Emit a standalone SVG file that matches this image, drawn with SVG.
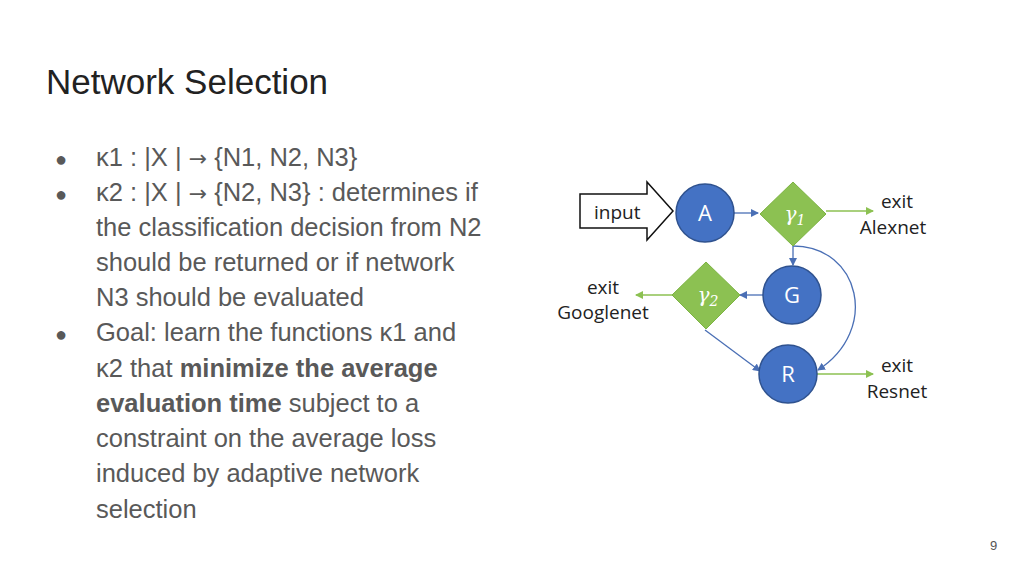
<svg xmlns="http://www.w3.org/2000/svg" width="1024" height="576" viewBox="0 0 1024 576">
<style>
.t{font-family:"Liberation Sans",Arial,sans-serif;fill:#595959;font-size:25.5px}
.ar{font-family:"DejaVu Sans",sans-serif;font-size:22px}
.d{font-family:"Open Sans","Liberation Sans",sans-serif;font-size:19px;fill:#222}
.c{fill:#4472c4;stroke:#2f528f;stroke-width:1.5}
.dm{fill:#8cc152;stroke:#7cb342}
.b{stroke:#4a6fb5;stroke-width:1.3;fill:none;marker-end:url(#mb)}
.g{stroke:#8cc152;stroke-width:1.3;fill:none;marker-end:url(#mg)}
.w{font-family:"Open Sans","Liberation Sans",sans-serif;font-size:22px;fill:#fff}
</style>
<defs>
<marker id="mb" markerWidth="8" markerHeight="8" refX="7" refY="4" orient="auto" markerUnits="userSpaceOnUse"><path d="M0,0L8,4L0,8z" fill="#4a6fb5"/></marker>
<marker id="mg" markerWidth="8" markerHeight="8" refX="7" refY="4" orient="auto" markerUnits="userSpaceOnUse"><path d="M0,0L8,4L0,8z" fill="#8cc152"/></marker>
</defs>
<rect width="1024" height="576" fill="#fff"/>
<text x="46" y="94" font-family="Liberation Sans,Arial,sans-serif" font-size="35" fill="#222">Network Selection</text>
<g class="t">
<text x="55" y="166" font-size="20">●</text><text x="96" y="166">κ1 : |X | <tspan class="ar">→</tspan> {N1, N2, N3}</text>
<text x="55" y="201" font-size="20">●</text><text x="96" y="201">κ2 : |X | <tspan class="ar">→</tspan> {N2, N3} : determines if</text>
<text x="96" y="236">the classification decision from N2</text>
<text x="96" y="271">should be returned or if network</text>
<text x="96" y="306">N3 should be evaluated</text>
<text x="55" y="341" font-size="20">●</text><text x="96" y="341">Goal: learn the functions κ1 and</text>
<text x="96" y="377">κ2 that <tspan font-weight="bold">minimize the average</tspan></text>
<text x="96" y="412"><tspan font-weight="bold">evaluation time</tspan> subject to a</text>
<text x="96" y="447">constraint on the average loss</text>
<text x="96" y="482">induced by adaptive network</text>
<text x="96" y="518">selection</text>
</g>
<text x="990" y="550" font-family="Liberation Sans,sans-serif" font-size="13" fill="#555">9</text>
<g id="connectors">
<path class="b" d="M734,213H758"/>
<path class="g" d="M826,211H873"/>
<path class="b" d="M793,246V265"/>
<path class="b" d="M793,246C860,246 880,330 818,370"/>
<path class="b" d="M763,295H740"/>
<path class="g" d="M672,295H636"/>
<path class="b" d="M705,330L760,371"/>
<path class="g" d="M817,374H873"/>
</g>
<g id="input"><path d="M580,194H647V182L673,211L647,240V228H580Z" fill="#fff" stroke="#111" stroke-width="1.5"/><text class="d" x="594" y="219">input</text></g>
<g id="A"><circle class="c" cx="705" cy="213" r="29"/><text class="w" x="705" y="221" text-anchor="middle">A</text></g>
<g id="g1"><path class="dm" d="M793,182L826,214L793,246L760,214Z"/><text x="795" y="221" text-anchor="middle" font-family="DejaVu Serif,serif" font-style="italic" font-size="20" fill="#fff">γ<tspan font-size="14" dy="4">1</tspan></text></g>
<g id="G"><circle class="c" cx="792" cy="295" r="29"/><text class="w" x="792" y="303" text-anchor="middle">G</text></g>
<g id="g2"><path class="dm" d="M706,262L740,295L706,329L672,295Z"/><text x="708" y="302" text-anchor="middle" font-family="DejaVu Serif,serif" font-style="italic" font-size="20" fill="#fff">γ<tspan font-size="14" dy="4">2</tspan></text></g>
<g id="R"><circle class="c" cx="788" cy="374" r="29"/><text class="w" x="788" y="382" text-anchor="middle">R</text></g>
<g class="d">
<text x="897" y="208" text-anchor="middle">exit</text><text x="893" y="234" text-anchor="middle">Alexnet</text>
<text x="603" y="294" text-anchor="middle">exit</text><text x="603" y="319" text-anchor="middle">Googlenet</text>
<text x="897" y="372" text-anchor="middle">exit</text><text x="897" y="398" text-anchor="middle">Resnet</text>
</g>
</svg>
